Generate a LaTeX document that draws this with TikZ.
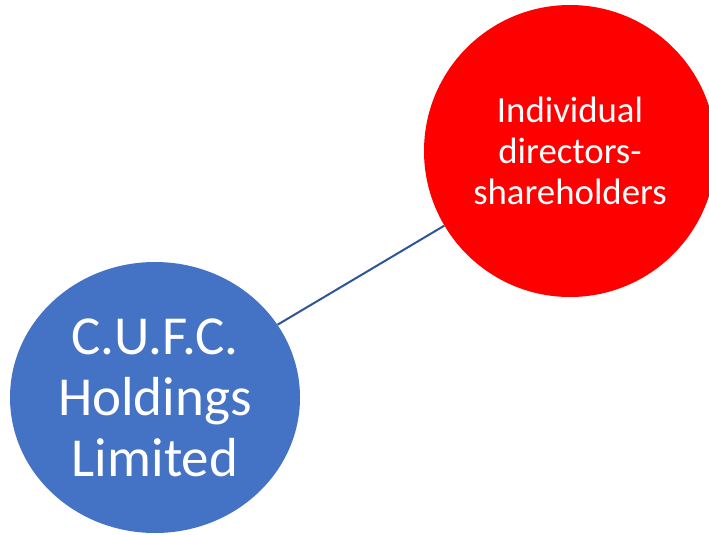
\documentclass[tikz,border=0pt]{standalone}
\usepackage{fontspec}
\setmainfont{Carlito}
\usetikzlibrary{shapes.geometric}

\definecolor{cufcblue}{HTML}{4472C4}
\definecolor{linkblue}{HTML}{2F5597}

\begin{document}
\begin{tikzpicture}[x=1pt,y=-1pt]

    % `company' is the holding company, `owners' the people behind it.
    \tikzstyle{company} = [ellipse,fill=cufcblue,text=white,inner sep=0pt,
      minimum width=290pt,minimum height=271pt,align=center,
      font=\fontsize{55}{61}\selectfont]
    \tikzstyle{owners} = [circle,fill=red,text=white,inner sep=0pt,
      minimum size=292pt,align=center,font=\fontsize{36.8}{41}\selectfont]
    %
    \useasboundingbox (0,0) rectangle (709,535);
    \clip (0,0) rectangle (709,535);

    \node[company] (cufc) at (155,397.5) {C.U.F.C.\\Holdings\\Limited};
    \node[owners] (directors) at (570,151) {Individual\\directors-\\shareholders};

    % Link.
    \draw[linkblue,line width=2pt] (cufc) -- (directors);
    %
\end{tikzpicture}
\end{document}
